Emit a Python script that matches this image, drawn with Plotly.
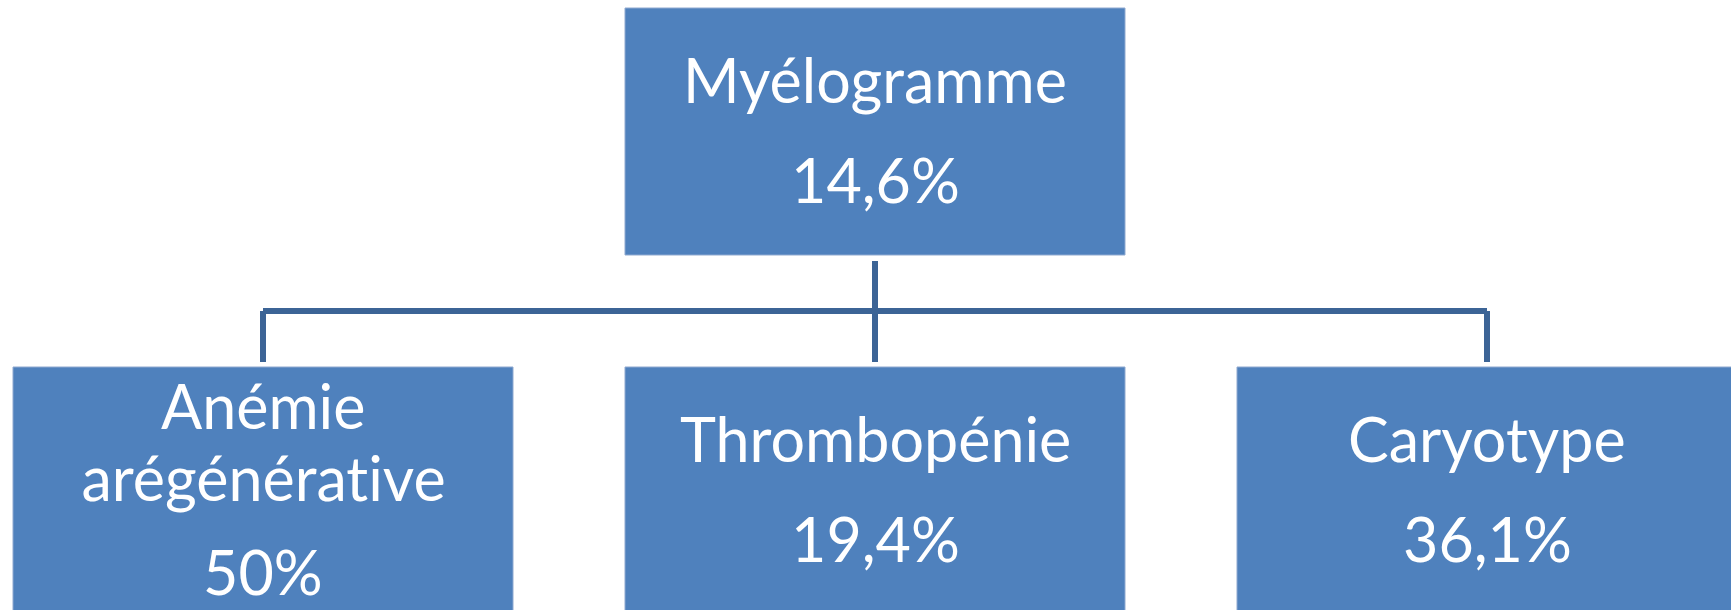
import plotly.graph_objects as go

# ---- data ----
labels = ["Myélogramme", "Anémie<br>arégénérative", "Thrombopénie", "Caryotype"]
values = [14.6, 50, 19.4, 36.1]
parents = [None, 0, 0, 0]

# ---- layout / style constants ----
W, H = 1731, 610
BOX_FILL = "#4F81BD"
LINE_COL = "#3C6496"
FONT = "Lato"
FS = 61
BOX_W = 500
TOP_BOX = (625, 8, 255)          # x0, y0, y1 (screen px)
BOT_Y0, BOT_Y1 = 367, 660
BOT_X0 = [13, 625, 1237]

def fmt(v):
    return f"{v:g}".replace(".", ",") + "%"

fig = go.Figure()
shapes = []
annotations = []

def add_box(x0, y0, y1):
    shapes.append(dict(type="rect", x0=x0, x1=x0 + BOX_W, y0=y0, y1=y1,
                       xref="x", yref="y", fillcolor=BOX_FILL,
                       line=dict(color="#8FA9D0", width=1), layer="below"))

def add_line(x, baseline, txt):
    annotations.append(dict(x=x, y=baseline - 0.36 * FS, xref="x", yref="y",
                            text=txt, showarrow=False, xanchor="center", yanchor="middle",
                            font=dict(family=FONT, size=FS, color="white")))

# top node
tx0, ty0, ty1 = TOP_BOX
add_box(tx0, ty0, ty1)
cx_top = tx0 + BOX_W / 2
add_line(cx_top, 101, labels[0])
add_line(cx_top, 201, fmt(values[0]))

# children
child_idx = [i for i, p in enumerate(parents) if p == 0]
child_cx = []
for k, i in enumerate(child_idx):
    x0 = BOT_X0[k]
    add_box(x0, BOT_Y0, BOT_Y1)
    cx = x0 + BOX_W / 2
    child_cx.append(cx)
    parts = labels[i].split("<br>")
    if len(parts) == 1:
        add_line(cx, 460, parts[0])
        add_line(cx, 560, fmt(values[i]))
    else:
        add_line(cx, 427, parts[0])
        add_line(cx, 499, parts[1])
        add_line(cx, 593, fmt(values[i]))

# connectors
mid_y = 311
xs = [cx_top, cx_top, None, min(child_cx), max(child_cx), None]
ys = [261, 362, None, mid_y, mid_y, None]
for cx in child_cx:
    xs += [cx, cx, None]
    ys += [mid_y, 362, None]
fig.add_trace(go.Scatter(x=xs, y=ys, mode="lines",
                         line=dict(color=LINE_COL, width=6),
                         hoverinfo="skip", showlegend=False))

fig.update_layout(
    width=W, height=H,
    margin=dict(l=0, r=0, t=0, b=0),
    paper_bgcolor="white", plot_bgcolor="white",
    shapes=shapes, annotations=annotations,
    xaxis=dict(range=[0, W], visible=False, fixedrange=True),
    yaxis=dict(range=[H, 0], visible=False, fixedrange=True),
    showlegend=False,
)

post = ("document.body.style.margin='0';document.body.style.overflow='hidden';"
        "var s=document.createElement('style');"
        "s.textContent='text{font-variant-ligatures:none;font-feature-settings:\"liga\" 0;}';"
        "document.head.appendChild(s);")
fig.write_html("out.html", post_script=post, config={"displayModeBar": False})
